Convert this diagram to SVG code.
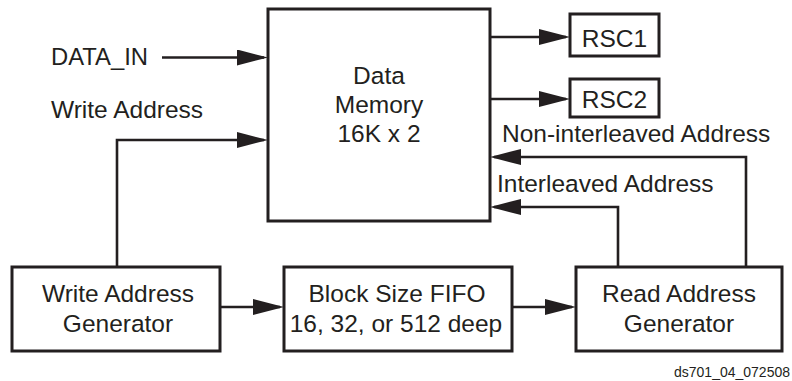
<svg xmlns="http://www.w3.org/2000/svg" width="792" height="381" viewBox="0 0 792 381">
<style>
.box{fill:#fff;stroke:#231f20;stroke-width:3}
.ln{fill:none;stroke:#231f20;stroke-width:2.6}
text{font-family:"Liberation Sans",Arial,sans-serif;font-size:24.5px;fill:#231f20}
.c{text-anchor:middle}
.sm{font-size:14px}
</style>
<defs>
<marker id="ah" viewBox="0 0 31 16" refX="27" refY="8" markerWidth="31" markerHeight="16" markerUnits="userSpaceOnUse" orient="auto">
<path d="M0,0 L31,8 L0,16 Z" fill="#231f20"/>
</marker>
</defs>
<g id="connectors">
<path class="ln" d="M162,57.5 H264" marker-end="url(#ah)"/>
<path class="ln" d="M117,267 V140 H264" marker-end="url(#ah)"/>
<path class="ln" d="M490,37 H566" marker-end="url(#ah)"/>
<path class="ln" d="M490,99 H566" marker-end="url(#ah)"/>
<path class="ln" d="M746,267 V157 H494" marker-end="url(#ah)"/>
<path class="ln" d="M618,267 V207 H494" marker-end="url(#ah)"/>
<path class="ln" d="M220,307 H280" marker-end="url(#ah)"/>
<path class="ln" d="M512,307 H572" marker-end="url(#ah)"/>
</g>
<g id="labels">
<text x="51" y="65" textLength="97" lengthAdjust="spacingAndGlyphs">DATA_IN</text>
<text x="51" y="118">Write Address</text>
<text x="502" y="142">Non-interleaved Address</text>
<text x="497" y="192">Interleaved Address</text>
</g>
<g id="data-memory">
<rect class="box" x="268" y="9" width="222" height="212"/>
<text class="c" x="379" y="84">Data</text>
<text class="c" x="379" y="113">Memory</text>
<text class="c" x="379" y="142">16K x 2</text>
</g>
<g id="rsc1">
<rect class="box" x="570" y="14" width="89" height="42"/>
<text class="c" x="614.5" y="47">RSC1</text>
</g>
<g id="rsc2">
<rect class="box" x="570" y="79" width="89" height="38"/>
<text class="c" x="614.5" y="108">RSC2</text>
</g>
<g id="write-address-generator">
<rect class="box" x="12" y="267" width="208" height="84"/>
<text class="c" x="118" y="302">Write Address</text>
<text class="c" x="118" y="332">Generator</text>
</g>
<g id="block-size-fifo">
<rect class="box" x="284" y="267" width="228" height="84"/>
<text class="c" x="397" y="302">Block Size FIFO</text>
<text class="c" x="396" y="332">16, 32, or 512 deep</text>
</g>
<g id="read-address-generator">
<rect class="box" x="576" y="267" width="206" height="84"/>
<text class="c" x="679" y="302">Read Address</text>
<text class="c" x="679" y="332">Generator</text>
</g>
<text class="sm" x="790" y="377" text-anchor="end">ds701_04_072508</text>
</svg>
